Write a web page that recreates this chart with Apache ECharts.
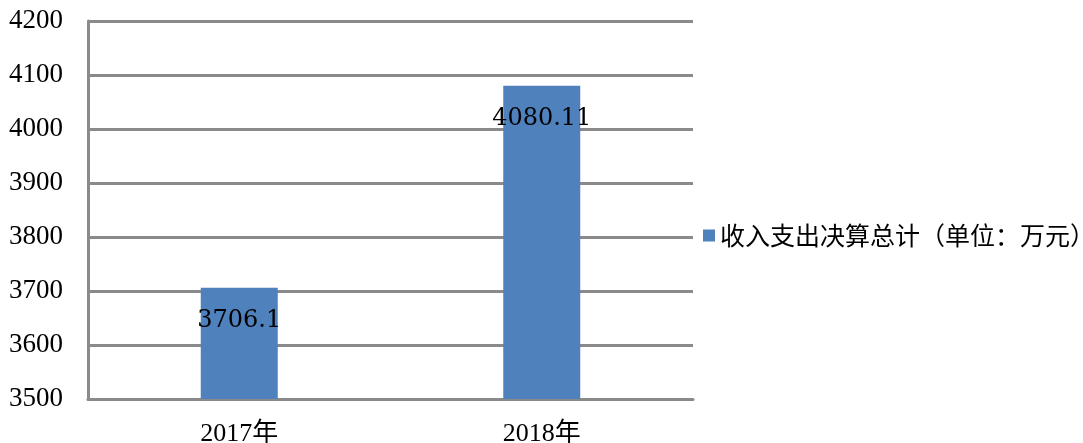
<!DOCTYPE html>
<html><head><meta charset="utf-8">
<script src="https://cdn.jsdelivr.net/npm/echarts@6/dist/echarts.min.js"></script>
<style>html,body{margin:0;padding:0;background:#fff}#c{width:1083px;height:443px}</style>
</head><body><div id="c"></div>
<script>
const categories = ['2017年', '2018年'];
const values = [3706.1, 4080.11];
const valueLabels = ['3706.1', '4080.11'];
const seriesName = '收入支出决算总计（单位：万元）';
const yMin = 3500, yMax = 4200, yInterval = 100;

const chart = echarts.init(document.getElementById('c'));
chart.setOption({
  animation: false,
  backgroundColor: '#fff',
  grid: {left: 88, right: 390, top: 21, bottom: 44, containLabel: false, outerBoundsMode: 'none'},
  legend: {
    data: [seriesName], orient: 'vertical', left: 698, top: 218,
    itemWidth: 12, itemHeight: 12, icon: 'rect',
    textStyle: {fontSize: 25, color: '#000', fontFamily: 'Noto Sans CJK SC'}
  },
  xAxis: {
    type: 'category', data: categories,
    axisLine: {lineStyle: {color: '#8a8a8a', width: 3}},
    axisTick: {show: false},
    axisLabel: {margin: 22, fontSize: 26, color: '#000', fontFamily: 'Liberation Serif, Noto Sans CJK SC'}
  },
  yAxis: {
    type: 'value', min: yMin, max: yMax, interval: yInterval,
    axisLine: {show: true, lineStyle: {color: '#8a8a8a', width: 3}},
    axisTick: {show: false},
    splitLine: {lineStyle: {color: '#8a8a8a', width: 3}},
    axisLabel: {margin: 25, fontSize: 27, color: '#000', fontFamily: 'Liberation Serif', formatter: v => String(v)}
  },
  series: [{
    name: seriesName, type: 'bar', data: values, barWidth: 77,
    itemStyle: {color: '#4F81BD'},
    label: {
      show: true, position: 'insideTop', distance: 21,
      formatter: p => valueLabels[p.dataIndex],
      fontSize: 24, color: '#000', fontFamily: 'DejaVu Serif'
    }
  }]
});
</script></body></html>
